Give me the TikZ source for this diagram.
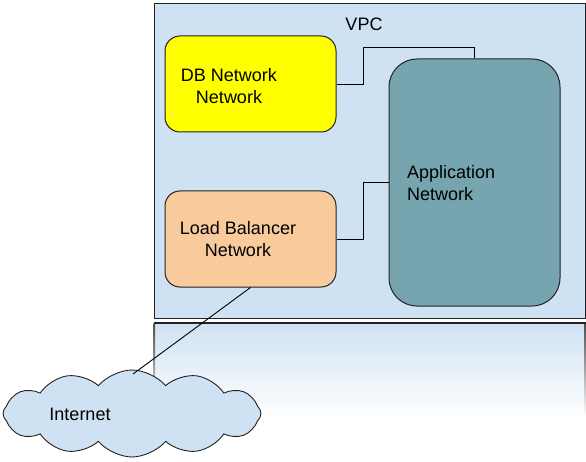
\documentclass[tikz,border=0pt]{standalone}
\usepackage{fontspec}
\setmainfont{Liberation Sans}
\usetikzlibrary{shapes.symbols}
\definecolor{vpcblue}{HTML}{CFE2F3}
\definecolor{dbyellow}{HTML}{FFFF00}
\definecolor{lborange}{HTML}{F9CB9C}
\definecolor{appteal}{HTML}{76A5AF}
\definecolor{edge}{HTML}{222222}
\tikzset{
  netbox/.style={draw=edge, line width=1pt, rounded corners=15pt, inner sep=0pt},
  lbl/.style={font=\fontsize{18}{22}\selectfont, inner sep=0pt, text=black},
  wire/.style={draw=black, line width=0.9pt},
}
\begin{document}
\begin{tikzpicture}[x=1pt,y=-1pt]
\useasboundingbox (0,0) rectangle (586,462);
% lower faded region
\shade[top color=vpcblue, bottom color=white] (154,323) rectangle (585,417);
\shade[top color=edge!80, bottom color=white] (153.5,323) rectangle (155,417);
\shade[top color=edge!80, bottom color=white] (584,323) rectangle (585.5,417);
\draw[edge, line width=1.5pt] (153.5,323) -- (585.5,323);
% VPC
\node[draw=edge, line width=1.5pt, fill=vpcblue, minimum width=431pt, minimum height=314.5pt, inner sep=0pt] (vpc) at (370,161) {};
\node[lbl] (vpctext) at (364,24) {VPC};
% boxes
\node[netbox, fill=dbyellow, minimum width=171pt, minimum height=96pt] (db) at (250.5,84) {};
\node[netbox, fill=lborange, minimum width=171pt, minimum height=96pt] (lb) at (250.5,239) {};
\node[netbox, rounded corners=28pt, fill=appteal, minimum width=171pt, minimum height=247pt] (app) at (474.5,182.5) {};
\node[lbl, align=center] (dbtext) at (229,86) {DB Network\\Network};
\node[lbl, align=center] (lbtext) at (238,239) {Load Balancer\\Network};
\node[lbl, align=left, anchor=west] (apptext) at (407,183) {Application\\Network};
% connectors
\coordinate (c1) at (363,47);
\coordinate (c2) at (363,182.5);
\draw[wire] (db.east) -| (c1) -| (app.north);
\draw[wire] (lb.east) -| (c2) -- (app.west);
% cloud
\node[cloud, cloud puffs=12, cloud puff arc=100, aspect=3, draw=edge, line width=0.9pt, fill=vpcblue, minimum width=258pt, minimum height=87pt, inner sep=0pt] (net) at (132,413.5) {};
\node[lbl] (nettext) at (80,414) {Internet};
\coordinate (ctop) at (133,374);
\draw[wire] (lb.south) -- (ctop);
\end{tikzpicture}
\end{document}
